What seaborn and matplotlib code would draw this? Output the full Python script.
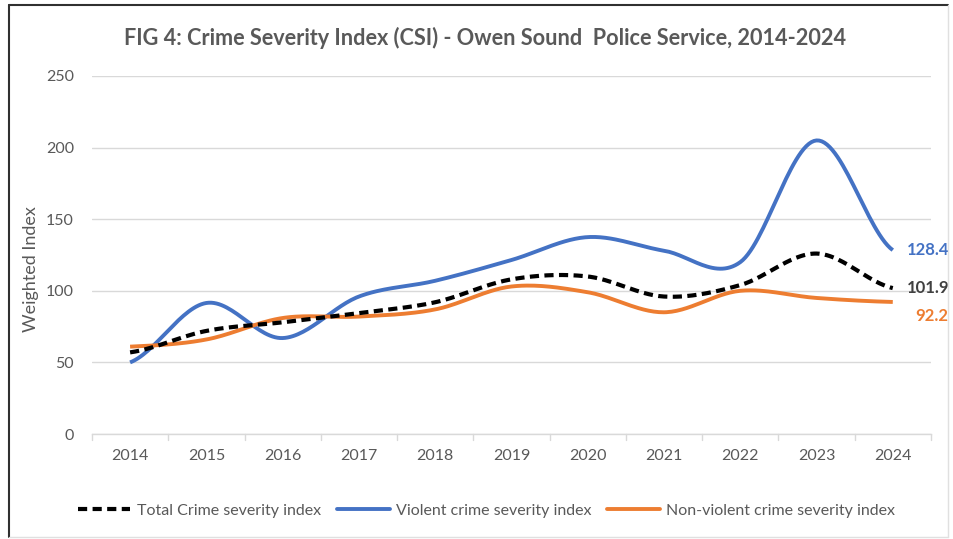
import numpy as np
import pandas as pd
import matplotlib
matplotlib.use("Agg")
import matplotlib.pyplot as plt
import seaborn as sns
from matplotlib.lines import Line2D

years = [2014, 2015, 2016, 2017, 2018, 2019, 2020, 2021, 2022, 2023, 2024]
total_csi = [57, 72, 78, 84.5, 92, 108, 110, 96, 104, 126, 101.9]
violent_csi = [50, 91.5, 67, 96, 107, 121.5, 137.5, 128, 120, 205, 128.4]
nonviolent_csi = [61, 66, 81, 82, 87, 103, 99, 85, 100, 95, 92.2]
series_names = ["Total Crime severity index", "Violent crime severity index",
                "Non-violent crime severity index"]
yticks = [0, 50, 100, 150, 200, 250]

sns.set_theme(style="white")
plt.rcParams["font.family"] = ["Lato", "DejaVu Sans"]

C_BLUE = "#4472C4"
C_ORANGE = "#ED7D31"
C_TEXT = "#595959"


def smooth(xs, ys, n=30):
    """Catmull-Rom (Excel-like smoothed line) through the data points."""
    xs = np.asarray(xs, float)
    ys = np.asarray(ys, float)
    px = np.concatenate([[2 * xs[0] - xs[1]], xs, [2 * xs[-1] - xs[-2]]])
    py = np.concatenate([[ys[0]], ys, [ys[-1]]])
    outx, outy = [], []
    for i in range(1, len(px) - 2):
        p0x, p1x, p2x, p3x = px[i - 1:i + 3]
        p0y, p1y, p2y, p3y = py[i - 1:i + 3]
        c1x, c1y = p1x + (p2x - p0x) / 6, p1y + (p2y - p0y) / 6
        c2x, c2y = p2x - (p3x - p1x) / 6, p2y - (p3y - p1y) / 6
        t = np.linspace(0, 1, n, endpoint=(i == len(px) - 3))
        b0 = (1 - t) ** 3
        b1 = 3 * (1 - t) ** 2 * t
        b2 = 3 * (1 - t) * t ** 2
        b3 = t ** 3
        outx.append(b0 * p1x + b1 * c1x + b2 * c2x + b3 * p2x)
        outy.append(b0 * p1y + b1 * c1y + b2 * c2y + b3 * p2y)
    return np.concatenate(outx), np.concatenate(outy)


fig = plt.figure(figsize=(9.54, 5.39), dpi=100)
ax = fig.add_axes([0.0964, 0.1948, 0.8794, 0.6642])

styles = [
    dict(color="black", ls=(0, (2.2, 1.3)), lw=3.0),
    dict(color=C_BLUE, ls="-", lw=2.8),
    dict(color=C_ORANGE, ls="-", lw=2.8),
]
frames = []
for name, vals in zip(series_names, [total_csi, violent_csi, nonviolent_csi]):
    sx, sy = smooth(years, vals)
    frames.append(pd.DataFrame({"year": sx, "value": sy, "series": name}))
df = pd.concat(frames, ignore_index=True)

# draw violent and non-violent first, total on top
for name, st in zip([series_names[1], series_names[2], series_names[0]],
                    [styles[1], styles[2], styles[0]]):
    d = df[df["series"] == name]
    sns.lineplot(data=d, x="year", y="value", ax=ax, color=st["color"],
                 linewidth=st["lw"], linestyle=st["ls"], sort=False,
                 estimator=None, legend=False, solid_capstyle="butt")

ax.set_xlim(years[0] - 0.5, years[-1] + 0.5)
ax.set_ylim(0, 250)
ax.set_yticks(yticks)
ax.set_yticklabels([str(v) for v in yticks], color=C_TEXT, fontsize=11.5)
ax.set_xticks(years)
ax.set_xticklabels([str(y) for y in years], color=C_TEXT, fontsize=11.5)
ax.tick_params(axis="x", length=0, pad=11)
ax.tick_params(axis="y", length=0, pad=13)
ax.grid(axis="y", color="#D9D9D9", linewidth=1)
ax.grid(axis="x", visible=False)
for s in ["top", "right", "left"]:
    ax.spines[s].set_visible(False)
ax.spines["bottom"].set_color("#D9D9D9")
ax.spines["bottom"].set_linewidth(1)
# category separator ticks
for xb in np.arange(years[0] - 0.5, years[-1] + 1.0, 1.0):
    ax.plot([xb, xb], [0, -4], color="#D9D9D9", lw=1, clip_on=False)
ax.set_xlabel("")
ax.set_ylabel("")
fig.text(0.032, 0.5, "Weighted Index", rotation=90, ha="center", va="center",
         color=C_TEXT, fontsize=13)

# end labels
ax.annotate(f"{violent_csi[-1]:.1f}", xy=(years[-1], violent_csi[-1]),
            xytext=(10, 0), textcoords="offset points", va="center", ha="left",
            color=C_BLUE, fontsize=12, fontweight="bold")
ax.annotate(f"{total_csi[-1]:.1f}", xy=(years[-1], total_csi[-1]),
            xytext=(10, 0), textcoords="offset points", va="center", ha="left",
            color="#404040", fontsize=12, fontweight="bold")
ax.annotate(f"{nonviolent_csi[-1]:.1f}", xy=(years[-1], nonviolent_csi[-1]),
            xytext=(16, -10), textcoords="offset points", va="center", ha="left",
            color=C_ORANGE, fontsize=12, fontweight="bold")

fig.text(0.508, 0.93, "FIG 4: Crime Severity Index (CSI) - Owen Sound  Police Service, 2014-2024",
         ha="center", va="center", fontsize=15.6, fontweight="bold", color=C_TEXT)

handles = [Line2D([], [], color=st["color"], ls=st["ls"], lw=st["lw"]) for st in styles]
fig.legend(handles, series_names, loc="center", bbox_to_anchor=(0.51, 0.053),
           ncol=3, frameon=False, fontsize=11.5, handlelength=3.3,
           columnspacing=1.0, handletextpad=0.4, labelcolor=C_TEXT)

# chart frame: dark top/left, faint right/bottom
fx0, fx1, fy0, fy1 = 0.0095, 0.994, 0.004, 0.991
fig.add_artist(Line2D([fx0, fx1], [fy1, fy1], transform=fig.transFigure, color="#303030", lw=1.5))
fig.add_artist(Line2D([fx0, fx0], [fy0, fy1], transform=fig.transFigure, color="#303030", lw=1.5))
fig.add_artist(Line2D([fx1, fx1], [fy0, fy1], transform=fig.transFigure, color="#E0E0E0", lw=1))
fig.add_artist(Line2D([fx0, fx1], [fy0, fy0], transform=fig.transFigure, color="#E0E0E0", lw=1))

fig.savefig("out.png", dpi=100)
